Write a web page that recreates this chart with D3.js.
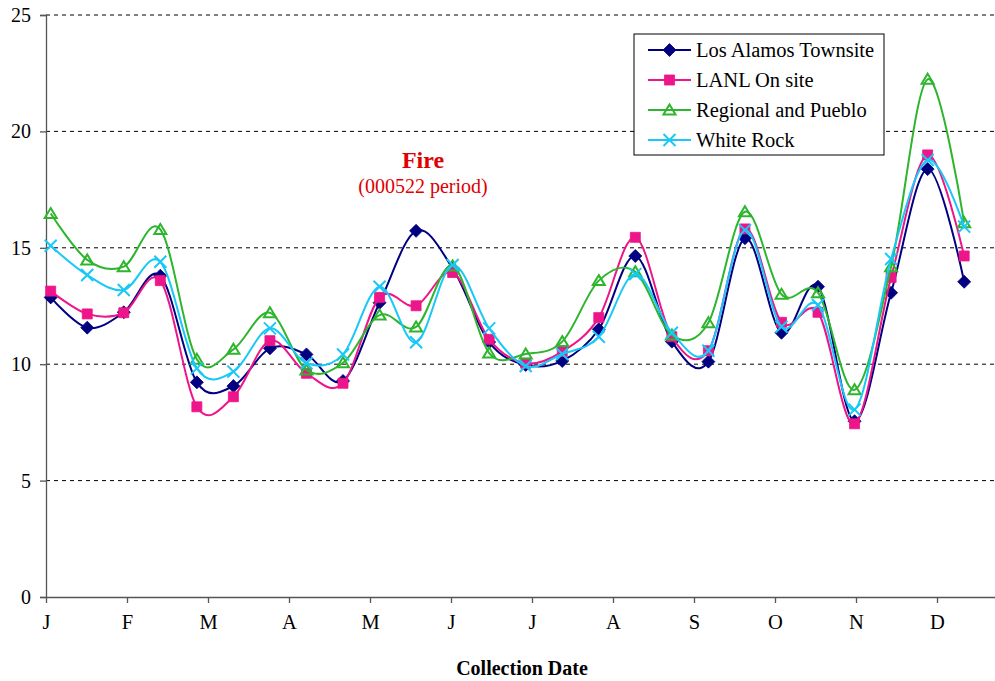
<!DOCTYPE html>
<html>
<head>
<meta charset="utf-8">
<script src="https://cdn.jsdelivr.net/npm/d3@7"></script>
<style>
  html, body { margin: 0; padding: 0; background: #fff; }
  svg { display: block; font-family: "Liberation Serif", "Times New Roman", serif; }
</style>
</head>
<body>
<svg id="chart" width="995" height="681"></svg>
<script>
// Month labels along the collection-date axis
const monthLabels = ["J", "F", "M", "A", "M", "J", "J", "A", "S", "O", "N", "D"];
// Y axis ticks
const yTicks = [0, 5, 10, 15, 20, 25];

// Collection schedule (in months from Jan 1): first sample and interval between samples
const firstSample = 0.058;
const sampleInterval = 0.4511;

// Series values, one per collection period
const losAlamos = [12.87, 11.57, 12.23, 13.80, 9.22, 9.06, 10.68, 10.42, 9.28, 12.64, 15.73, 14.12, 10.95,
                   9.97, 10.14, 11.50, 14.65, 10.97, 10.11, 15.41, 11.35, 13.33, 7.55, 13.07, 18.38, 13.54];
const lanlOnSite = [13.14, 12.16, 12.21, 13.59, 8.17, 8.60, 11.01, 9.61, 9.18, 12.87, 12.51, 13.94, 11.07,
                    10.04, 10.54, 12.00, 15.45, 11.18, 10.58, 15.81, 11.80, 12.23, 7.44, 13.73, 18.99, 14.65];
const regionalPueblo = [16.47, 14.48, 14.19, 15.79, 10.21, 10.64, 12.21, 9.75, 10.06, 12.11, 11.60, 14.22, 10.48,
                        10.44, 10.97, 13.59, 13.97, 11.25, 11.78, 16.55, 13.00, 13.07, 8.90, 14.19, 22.24, 16.08];
const whiteRock = [15.09, 13.83, 13.19, 14.40, 9.82, 9.68, 11.54, 10.04, 10.42, 13.33, 10.94, 14.26, 11.54,
                   9.92, 10.44, 11.18, 13.87, 11.35, 10.58, 15.76, 11.61, 12.54, 8.05, 14.52, 18.77, 15.91];

const seriesNames = ["Los Alamos Townsite", "LANL On site", "Regional and Pueblo", "White Rock"];
const seriesColors = ["#000080", "#EE1489", "#2DB52D", "#18C8F6"];
const seriesMarkers = ["diamond", "square", "triangle", "cross"];
const seriesValues = [losAlamos, lanlOnSite, regionalPueblo, whiteRock];

const serif = "Liberation Serif, Times New Roman, serif";
const svg = d3.select("#chart");
const plot = { left: 46, right: 995, top: 15, bottom: 597 };

const x = d3.scaleLinear().domain([0, (plot.right - plot.left) / 81]).range([plot.left, plot.right]);
const y = d3.scaleLinear().domain([0, 25]).range([plot.bottom, plot.top]);

// Dashed gridlines
svg.append("g")
  .selectAll("line")
  .data(yTicks.filter(d => d > 0))
  .join("line")
  .attr("x1", plot.left).attr("x2", plot.right)
  .attr("y1", d => y(d)).attr("y2", d => y(d))
  .attr("stroke", "#000").attr("stroke-width", 1)
  .attr("stroke-dasharray", "4,4");

// Y axis
const yAxis = svg.append("g")
  .attr("transform", `translate(${plot.left},0)`)
  .call(d3.axisLeft(y).tickValues(yTicks).tickSize(6).tickPadding(9).tickFormat(d3.format("d")));
yAxis.attr("font-family", serif);
yAxis.select(".domain").attr("stroke", "#555").attr("stroke-width", 1.3);
yAxis.selectAll(".tick line").attr("stroke", "#555").attr("stroke-width", 1.3);
yAxis.selectAll("text").attr("font-size", 20).attr("fill", "#000");

// X axis (months)
const xAxis = svg.append("g")
  .attr("transform", `translate(0,${plot.bottom})`)
  .call(d3.axisBottom(x).tickValues(d3.range(monthLabels.length)).tickSize(6).tickPadding(11)
    .tickFormat(i => monthLabels[i]).tickSizeOuter(0));
xAxis.attr("font-family", serif);
xAxis.select(".domain").attr("stroke", "#555").attr("stroke-width", 1.3);
xAxis.selectAll(".tick line").attr("stroke", "#555").attr("stroke-width", 1.3);
xAxis.selectAll("text").attr("font-size", 20.5).attr("fill", "#000");

// X axis title
svg.append("text")
  .attr("x", 522).attr("y", 675)
  .attr("text-anchor", "middle")
  .attr("font-size", 20).attr("font-weight", "bold")
  .text("Collection Date");

// Marker shapes
function markerPath(type) {
  switch (type) {
    case "diamond": return "M0,-6.5L6.5,0L0,6.5L-6.5,0Z";
    case "square": return "M-5,-5H5V5H-5Z";
    case "triangle": return "M0,-5.5L6,4.5L-6,4.5Z";
    case "cross": return "M-6,-6L6,6M-6,6L6,-6";
  }
}
function drawMarker(sel, type, color) {
  sel.append("path")
    .attr("d", markerPath(type))
    .attr("fill", type === "diamond" || type === "square" ? color : "none")
    .attr("stroke", color)
    .attr("stroke-width", type === "diamond" || type === "square" ? 0.8 : 2);
}

const line = d3.line()
  .x((d, i) => x(firstSample + i * sampleInterval))
  .y(d => y(d))
  .curve(d3.curveCatmullRom.alpha(0));

// Series lines and markers
seriesValues.forEach((vals, s) => {
  const g = svg.append("g");
  g.append("path")
    .datum(vals)
    .attr("d", line)
    .attr("fill", "none")
    .attr("stroke", seriesColors[s])
    .attr("stroke-width", 2);
  g.selectAll("g.pt")
    .data(vals)
    .join("g")
    .attr("class", "pt")
    .attr("transform", (d, i) => `translate(${x(firstSample + i * sampleInterval)},${y(d)})`)
    .each(function () { drawMarker(d3.select(this), seriesMarkers[s], seriesColors[s]); });
});

// Fire annotation
svg.append("text")
  .attr("x", 423).attr("y", 168)
  .attr("text-anchor", "middle")
  .attr("font-size", 24).attr("font-weight", "bold")
  .attr("fill", "#E00000")
  .text("Fire");
svg.append("text")
  .attr("x", 423).attr("y", 193)
  .attr("text-anchor", "middle")
  .attr("font-size", 20)
  .attr("fill", "#E00000")
  .text("(000522 period)");

// Legend
const legend = svg.append("g");
legend.append("rect")
  .attr("x", 634).attr("y", 34)
  .attr("width", 250).attr("height", 121)
  .attr("fill", "#fff").attr("stroke", "#000").attr("stroke-width", 1);
seriesNames.forEach((name, s) => {
  const ly = 50 + s * 30;
  const item = legend.append("g");
  item.append("line")
    .attr("x1", 648).attr("x2", 691)
    .attr("y1", ly).attr("y2", ly)
    .attr("stroke", seriesColors[s]).attr("stroke-width", 2);
  drawMarker(item.append("g").attr("transform", `translate(669.5,${ly})`), seriesMarkers[s], seriesColors[s]);
  item.append("text")
    .attr("x", 696).attr("y", ly + 7)
    .attr("font-size", 20.5)
    .text(name);
});
</script>
</body>
</html>
